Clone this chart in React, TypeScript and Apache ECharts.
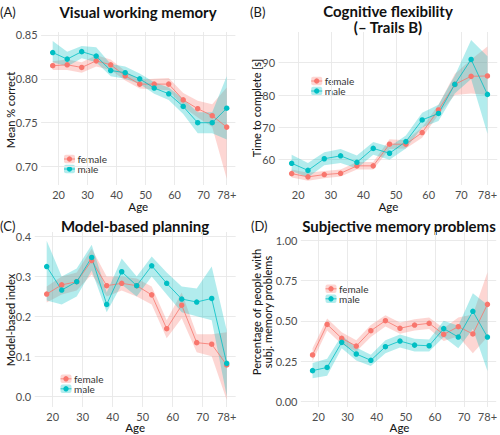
import React, { useEffect, useRef } from "react";
import * as echarts from "echarts";

const AGES = [18, 23, 28, 33, 38, 43, 48, 53, 58, 63, 68, 73, 78];
const X_TICKS = [20, 30, 40, 50, 60, 70, 78];

// Panel A: Visual working memory
const A_FEMALE = [0.815, 0.816, 0.813, 0.8205, 0.816, 0.8035, 0.794, 0.794, 0.794, 0.776, 0.766, 0.758, 0.745];
const A_FEMALE_LO = [0.81, 0.81, 0.807, 0.814, 0.81, 0.798, 0.789, 0.788, 0.787, 0.768, 0.756, 0.745, 0.686];
const A_FEMALE_HI = [0.82, 0.822, 0.819, 0.827, 0.822, 0.809, 0.799, 0.8, 0.801, 0.784, 0.775, 0.771, 0.79];
const A_MALE = [0.83, 0.8225, 0.831, 0.826, 0.8095, 0.807, 0.8, 0.7895, 0.783, 0.7685, 0.75, 0.75, 0.7665];
const A_MALE_LO = [0.819, 0.814, 0.8235, 0.819, 0.803, 0.8, 0.794, 0.783, 0.776, 0.76, 0.738, 0.738, 0.731];
const A_MALE_HI = [0.843, 0.831, 0.8375, 0.836, 0.817, 0.814, 0.806, 0.796, 0.79, 0.777, 0.762, 0.762, 0.803];
const A_TICKS = [0.7, 0.75, 0.8, 0.85];

// Panel B: Cognitive flexibility
const B_FEMALE = [55.7, 54.7, 55.4, 55.8, 58.1, 58.1, 64.8, 64.8, 68.4, 75.4, 83.3, 85.8, 85.9];
const B_FEMALE_LO = [54.5, 53.5, 54.3, 54.8, 57, 57, 63.3, 63.5, 66.8, 74, 80, 80.5, 80];
const B_FEMALE_HI = [57, 56, 56.5, 57, 59.3, 59.3, 66.3, 66, 70, 77, 86.5, 91, 95];
const B_MALE = [58.9, 56.7, 60.3, 61.2, 59.2, 63.5, 62, 65.6, 72.3, 74.3, 83.3, 91, 80.2];
const B_MALE_LO = [56.5, 54.5, 58.3, 59, 57.3, 61.5, 60, 63.5, 70, 72, 80.5, 85, 68];
const B_MALE_HI = [61.5, 59, 62.3, 63.3, 61.3, 65.5, 64, 67.5, 74.5, 77, 86, 97, 92];
const B_TICKS = [60, 70, 80, 90];

// Panel C: Model-based planning
const C_FEMALE = [0.256, 0.279, 0.287, 0.34, 0.277, 0.283, 0.277, 0.254, 0.169, 0.228, 0.134, 0.13, 0.078];
const C_FEMALE_LO = [0.235, 0.255, 0.265, 0.305, 0.25, 0.265, 0.25, 0.23, 0.145, 0.195, 0.11, 0.1, -0.01];
const C_FEMALE_HI = [0.275, 0.3, 0.31, 0.37, 0.3, 0.3, 0.295, 0.275, 0.19, 0.26, 0.155, 0.155, 0.16];
const C_MALE = [0.325, 0.266, 0.287, 0.348, 0.23, 0.312, 0.277, 0.327, 0.283, 0.2435, 0.236, 0.245, 0.082];
const C_MALE_LO = [0.24, 0.23, 0.25, 0.315, 0.21, 0.28, 0.25, 0.3, 0.255, 0.21, 0.2, 0.19, 0.0];
const C_MALE_HI = [0.39, 0.3, 0.32, 0.38, 0.26, 0.345, 0.3, 0.35, 0.31, 0.275, 0.27, 0.325, 0.165];
const C_TICKS = [0, 0.1, 0.2, 0.3, 0.4];

// Panel D: Subjective memory problems
const D_FEMALE = [0.289, 0.478, 0.392, 0.344, 0.439, 0.501, 0.454, 0.474, 0.485, 0.416, 0.464, 0.419, 0.602];
const D_FEMALE_LO = [0.25, 0.44, 0.355, 0.31, 0.4, 0.465, 0.42, 0.44, 0.45, 0.375, 0.405, 0.3, 0.4];
const D_FEMALE_HI = [0.33, 0.515, 0.43, 0.38, 0.475, 0.535, 0.49, 0.51, 0.52, 0.455, 0.52, 0.54, 0.8];
const D_MALE = [0.192, 0.212, 0.367, 0.295, 0.256, 0.34, 0.375, 0.35, 0.346, 0.452, 0.4, 0.559, 0.4];
const D_MALE_LO = [0.145, 0.16, 0.33, 0.255, 0.22, 0.3, 0.335, 0.31, 0.31, 0.4, 0.33, 0.45, 0.19];
const D_MALE_HI = [0.24, 0.265, 0.41, 0.335, 0.29, 0.38, 0.415, 0.39, 0.385, 0.5, 0.47, 0.67, 0.6];
const D_TICKS = [0, 0.25, 0.5, 0.75, 1.0];

const FEMALE_COLOR = "#F8766D";
const MALE_COLOR = "#00BFC4";
const FONT = 'Lato, "Noto Sans", sans-serif';

type Panel = {
  letter: string;
  title: string[];
  yName: string[];
  female: number[]; femaleLo: number[]; femaleHi: number[];
  male: number[]; maleLo: number[]; maleHi: number[];
  ticks: number[];
  fmt: (v: number) => string;
  grid: { left: number; top: number; width: number; height: number };
  yMin: number; yMax: number;
  letterPos: [number, number];
  titleX: number; titleY: number;
  yNameX: number; yNameY: number;
  ageY: number;
  legend: [number, number];
};

const PANELS: Panel[] = [
  {
    letter: "(A)", title: ["Visual working memory"], yName: ["Mean % correct"],
    female: A_FEMALE, femaleLo: A_FEMALE_LO, femaleHi: A_FEMALE_HI,
    male: A_MALE, maleLo: A_MALE_LO, maleHi: A_MALE_HI,
    ticks: A_TICKS, fmt: (v) => v.toFixed(2),
    grid: { left: 41.1, top: 32, width: 194.3, height: 153 },
    yMin: 0.679, yMax: 0.8534,
    letterPos: [0, 12], titleX: 138, titleY: 12, yNameX: 10, yNameY: 110, ageY: 206,
    legend: [69.5, 159],
  },
  {
    letter: "(B)", title: ["Cognitive flexibility", "(– Trails B)"], yName: ["Time to complete [s]"],
    female: B_FEMALE, femaleLo: B_FEMALE_LO, femaleHi: B_FEMALE_HI,
    male: B_MALE, maleLo: B_MALE_LO, maleHi: B_MALE_HI,
    ticks: B_TICKS, fmt: (v) => String(v),
    grid: { left: 278.6, top: 32, width: 219.7, height: 153 },
    yMin: 52.18, yMax: 99.5,
    letterPos: [250, 12], titleX: 388, titleY: 11, yNameX: 256, yNameY: 108, ageY: 206,
    legend: [316.7, 81],
  },
  {
    letter: "(C)", title: ["Model-based planning"], yName: ["Model-based index"],
    female: C_FEMALE, femaleLo: C_FEMALE_LO, femaleHi: C_FEMALE_HI,
    male: C_MALE, maleLo: C_MALE_LO, maleHi: C_MALE_HI,
    ticks: C_TICKS, fmt: (v) => v.toFixed(1),
    grid: { left: 34.7, top: 232, width: 201, height: 175 },
    yMin: -0.0276, yMax: 0.4118,
    letterPos: [0, 226], titleX: 135, titleY: 226, yNameX: 10, yNameY: 320, ageY: 427.5,
    legend: [66, 378.8],
  },
  {
    letter: "(D)", title: ["Subjective memory problems"], yName: ["Percentage of people with", "subj. memory problems"],
    female: D_FEMALE, femaleLo: D_FEMALE_LO, femaleHi: D_FEMALE_HI,
    male: D_MALE, maleLo: D_MALE_LO, maleHi: D_MALE_HI,
    ticks: D_TICKS, fmt: (v) => v.toFixed(2),
    grid: { left: 300.9, top: 232, width: 197.2, height: 175 },
    yMin: -0.0328, yMax: 1.0495,
    letterPos: [251, 226], titleX: 399, titleY: 226, yNameX: 256, yNameY: 312, ageY: 427.5,
    legend: [331, 288.8],
  },
];

function ribbonSeries(i: number, color: string, lo: number[], hi: number[]) {
  return {
    type: "custom", xAxisIndex: i, yAxisIndex: i, silent: true, z: 1,
    data: AGES.map((a, k) => [a, lo[k], hi[k]]),
    encode: { x: 0, y: [1, 2] },
    clip: true,
    renderItem: (params: any, api: any) => {
      if (params.dataIndex !== 0) return null;
      const upper = AGES.map((a, k) => api.coord([a, hi[k]]));
      const lower = AGES.map((a, k) => api.coord([a, lo[k]])).reverse();
      return {
        type: "polygon",
        shape: { points: upper.concat(lower) },
        style: { fill: color, opacity: 0.3 },
      };
    },
  };
}

function buildOption() {
  const grids: any[] = [];
  const xAxes: any[] = [];
  const yAxes: any[] = [];
  const series: any[] = [];
  const graphics: any[] = [];
  const gridLine = { lineStyle: { color: "#E8E8E8", width: 0.9 } };

  PANELS.forEach((p, i) => {
    grids.push({ ...p.grid });
    xAxes.push({
      type: "value", gridIndex: i, min: 14, max: 81,
      axisLine: { show: false },
      axisTick: { show: false, customValues: X_TICKS },
      axisLabel: {
        customValues: X_TICKS, margin: 3.5, color: "#4D4D4D", fontSize: 11, lineHeight: 11, fontFamily: FONT,
        formatter: (v: number) => (v === 78 ? "78+" : String(v)),
      },
      splitLine: { show: true, ...gridLine },
    });
    yAxes.push({
      type: "value", gridIndex: i, min: p.yMin, max: p.yMax,
      axisLine: { show: false },
      axisTick: { show: false, customValues: p.ticks },
      axisLabel: {
        customValues: p.ticks, margin: 3.5, color: "#4D4D4D", fontSize: 11, fontFamily: FONT,
        formatter: (v: number) => p.fmt(v),
      },
      splitLine: { show: true, ...gridLine },
    });

    const groups = [
      { name: "female", color: FEMALE_COLOR, vals: p.female, lo: p.femaleLo, hi: p.femaleHi },
      { name: "male", color: MALE_COLOR, vals: p.male, lo: p.maleLo, hi: p.maleHi },
    ];
    groups.forEach((g) => {
      series.push(ribbonSeries(i, g.color, g.lo, g.hi));
    });
    groups.forEach((g) => {
      series.push({
        type: "line", xAxisIndex: i, yAxisIndex: i, name: g.name,
        data: AGES.map((a, k) => [a, g.vals[k]]),
        symbol: "circle", symbolSize: 5.5, showSymbol: true,
        lineStyle: { color: g.color, width: 0.8 },
        itemStyle: { color: g.color },
        z: 3,
      });
    });

    graphics.push({
      type: "text", x: p.letterPos[0], y: p.letterPos[1],
      style: { text: p.letter, fontSize: 13, fontFamily: FONT, fill: "#1a1a1a", align: "left", verticalAlign: "middle" },
    });
    p.title.forEach((t, li) => {
      graphics.push({
        type: "text", x: p.titleX, y: p.titleY + li * 15.5,
        style: { text: t, fontSize: 15, lineHeight: 15, fontWeight: "bold", fontFamily: FONT, fill: "#111", align: "center", verticalAlign: "middle" },
      });
    });
    p.yName.forEach((t, li) => {
      graphics.push({
        type: "text", x: p.yNameX + li * 11, y: p.yNameY, rotation: Math.PI / 2,
        style: { text: t, fontSize: 11, lineHeight: 10.5, fontFamily: FONT, fontWeight: 500, fill: "#1a1a1a", align: "center", verticalAlign: "middle" },
      });
    });
    graphics.push({
      type: "text", x: p.grid.left + p.grid.width / 2, y: p.ageY,
      style: { text: "Age", fontSize: 11.5, lineHeight: 11.5, fontFamily: FONT, fontWeight: 500, fill: "#1a1a1a", align: "center", verticalAlign: "middle" },
    });
    groups.forEach((g, gi) => {
      const cx = p.legend[0];
      const cy = p.legend[1] + gi * 10;
      graphics.push({ type: "rect", shape: { x: cx - 5.5, y: cy - 4.2, width: 11, height: 8.4, r: 2 }, style: { fill: g.color, opacity: 0.3 } });
      graphics.push({ type: "line", shape: { x1: cx - 5.5, y1: cy, x2: cx + 5.5, y2: cy }, style: { stroke: g.color, lineWidth: 0.8 } });
      graphics.push({ type: "circle", shape: { cx, cy, r: 2.7 }, style: { fill: g.color } });
      graphics.push({
        type: "text", x: cx + 8, y: cy,
        style: { text: g.name, fontSize: 10, lineHeight: 9, fontFamily: FONT, fill: "#333", align: "left", verticalAlign: "middle" },
      });
    });
  });

  return {
    animation: false,
    backgroundColor: "#ffffff",
    textStyle: { fontFamily: FONT },
    grid: grids,
    xAxis: xAxes,
    yAxis: yAxes,
    series,
    graphic: graphics,
  };
}

export default function App() {
  const ref = useRef<HTMLDivElement>(null);
  useEffect(() => {
    if (!ref.current) return;
    const chart = echarts.init(ref.current, undefined, { renderer: "svg" });
    chart.setOption(buildOption());
    return () => chart.dispose();
  }, []);
  return (
    <div
      ref={ref}
      style={{ position: "fixed", left: 0, top: 0, width: 500, height: 435, background: "#fff" }}
    />
  );
}
